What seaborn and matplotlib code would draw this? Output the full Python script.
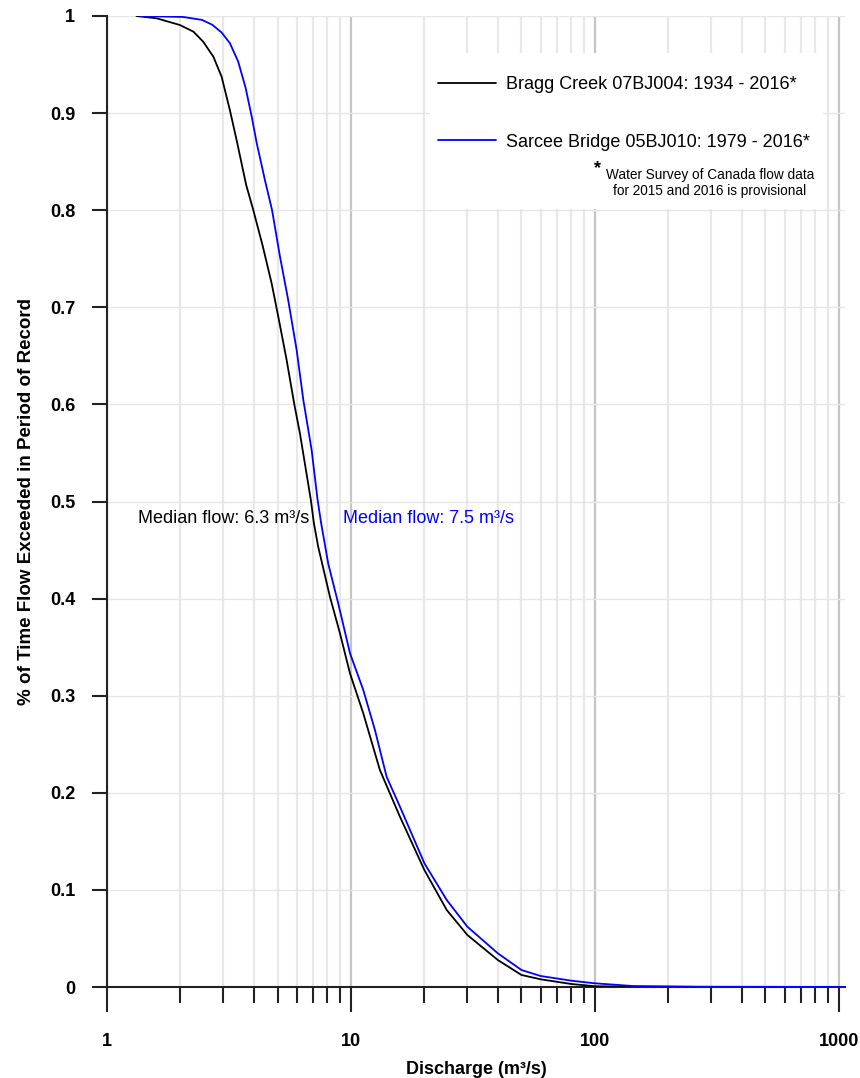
import numpy as np
import pandas as pd
import matplotlib
matplotlib.use("Agg")
import matplotlib.pyplot as plt
import seaborn as sns
from matplotlib.patches import Rectangle
from matplotlib.lines import Line2D

# ---- data ----
bragg_q = [1.32, 1.60, 1.99, 2.26, 2.48, 2.73, 2.95, 3.19, 3.40, 3.72, 3.98, 4.35,
           4.73, 5.04, 5.45, 5.86, 6.18, 6.85, 7.05, 7.34, 8.20, 9.02, 9.91, 11.23,
           13.14, 15.88, 20.0, 24.7, 30.0, 40.0, 50.0, 60.0, 80.0, 100.0, 150.0, 300.0, 700.0]
bragg_p = [1.0, 0.9976, 0.9907, 0.9839, 0.9735, 0.958, 0.9375, 0.903, 0.872, 0.826, 0.800, 0.763,
           0.7247, 0.690, 0.6457, 0.600, 0.570, 0.5015, 0.4775, 0.4535, 0.402, 0.364, 0.323, 0.282,
           0.2235, 0.1754, 0.1205, 0.0793, 0.0536, 0.0278, 0.0124, 0.0079, 0.0031, 0.0008, 0.0002, 0.0001, 0.0]

sarcee_q = [1.37, 2.05, 2.45, 2.70, 2.95, 3.19, 3.45, 3.70, 3.92, 4.11, 4.45, 4.75, 5.12, 5.53,
            5.99, 6.38, 6.90, 7.30, 7.55, 8.07, 8.87, 9.91, 11.23, 12.54, 14.0, 15.88, 20.0,
            24.7, 30.0, 40.0, 50.0, 60.0, 80.0, 100.0, 143.0, 264.0, 1060.0]
sarcee_p = [1.0, 0.999, 0.996, 0.991, 0.983, 0.972, 0.953, 0.926, 0.8963, 0.869, 0.830, 0.800, 0.752, 0.7075,
            0.656, 0.6045, 0.553, 0.5015, 0.4775, 0.436, 0.395, 0.3437, 0.306, 0.2647, 0.2166, 0.1857, 0.1274,
            0.0896, 0.0621, 0.0347, 0.0175, 0.0113, 0.0065, 0.0038, 0.001, 0.0003, 0.0]

series_names = ["Bragg Creek 07BJ004: 1934 - 2016*", "Sarcee Bridge 05BJ010: 1979 - 2016*"]
series_colors = ["black", "#0000ff"]
median_labels = ["Median flow: 6.3 m\u00b3/s", "Median flow: 7.5 m\u00b3/s"]
median_label_x = [1.34, 9.27]
median_label_y = 0.483
x_ticks = [1, 10, 100, 1000]
x_tick_labels = ["1", "10", "100", "1000"]
y_ticks = [0, 0.1, 0.2, 0.3, 0.4, 0.5, 0.6, 0.7, 0.8, 0.9, 1.0]
y_tick_labels = ["0", "0.1", "0.2", "0.3", "0.4", "0.5", "0.6", "0.7", "0.8", "0.9", "1"]
footnote = "Water Survey of Canada flow data\nfor 2015 and 2016 is provisional"

sns.set_style("white")
plt.rcParams['font.family'] = ['Liberation Sans', 'DejaVu Sans']
plt.rcParams['text.color'] = 'black'
plt.rcParams['axes.labelcolor'] = 'black'

fig = plt.figure(figsize=(8.6, 10.78), dpi=100)
ax = fig.add_axes([107/860, 1 - 987/1078, (845-107)/860, (987-16)/1078])

df_b = pd.DataFrame({"q": bragg_q, "p": bragg_p})
df_s = pd.DataFrame({"q": sarcee_q, "p": sarcee_p})
sns.lineplot(data=df_b, x="q", y="p", color=series_colors[0], lw=1.3, sort=False,
             estimator=None, ax=ax, zorder=3)
sns.lineplot(data=df_s, x="q", y="p", color=series_colors[1], lw=1.3, sort=False,
             estimator=None, ax=ax, zorder=3)

ax.set_xscale("log")
ax.set_xlim(1, 1060)
ax.set_ylim(0, 1)
ax.set_xticks(x_ticks)
ax.set_xticklabels(x_tick_labels)
ax.xaxis.set_minor_locator(matplotlib.ticker.LogLocator(base=10, subs=np.arange(2, 10)))
ax.xaxis.set_minor_formatter(matplotlib.ticker.NullFormatter())
ax.set_yticks(y_ticks)
ax.set_yticklabels(y_tick_labels)

ax.tick_params(axis="x", which="major", direction="out", length=18, width=1.5,
               color="#222222", pad=15, labelsize=13, bottom=True, labelcolor="black")
ax.tick_params(axis="x", which="minor", direction="out", length=11.5, width=1.5,
               color="#222222", bottom=True)
ax.tick_params(axis="y", which="major", direction="out", length=11, width=1.5,
               color="#222222", pad=12, labelsize=13, left=True, labelcolor="black")
for lab in ax.get_xticklabels() + ax.get_yticklabels():
    lab.set_fontweight("bold")

ax.set_axisbelow(True)
ax.grid(which="minor", axis="x", color="#e8e8e8", lw=1.6)
ax.grid(which="major", axis="x", color="#c4c4c4", lw=1.6)
ax.grid(which="major", axis="y", color="#e6e6e6", lw=1.0)

for s in ["top", "right"]:
    ax.spines[s].set_visible(False)
for s in ["left", "bottom"]:
    ax.spines[s].set_color("#222222")
    ax.spines[s].set_linewidth(1.5)

ax.set_xlabel("Discharge (m\u00b3/s)", fontsize=13, fontweight="bold", labelpad=8)
ax.set_ylabel("% of Time Flow Exceeded in Period of Record", fontsize=13.5,
              fontweight="bold", labelpad=11)

# white legend area covering grid
ax.add_patch(Rectangle((0.4377, 0.801), 0.533, 0.161, transform=ax.transAxes,
                       facecolor="white", edgecolor="none", zorder=1))

handles = [Line2D([], [], color=c, lw=1.3) for c in series_colors]
leg = ax.legend(handles, series_names, loc="upper left",
                bbox_to_anchor=(438/860, 1 - 76/1078), bbox_transform=fig.transFigure,
                frameon=False, fontsize=13, handlelength=3.2, handletextpad=0.55,
                labelspacing=2.25, borderpad=0, borderaxespad=0)
for t in leg.get_texts():
    t.set_color("black")

fig.text(597/860, 1 - 169/1078, "*", fontsize=13, fontweight="bold", ha="center", va="center")
fig.text(710/860, 1 - 183/1078, footnote, fontsize=9.8, ha="center", va="center",
         linespacing=1.15)

for lbl, xx, c in zip(median_labels, median_label_x, series_colors):
    ax.text(xx, median_label_y, lbl, color=c, fontsize=13, ha="left", va="center", zorder=4)

fig.savefig("out.png", dpi=100)
